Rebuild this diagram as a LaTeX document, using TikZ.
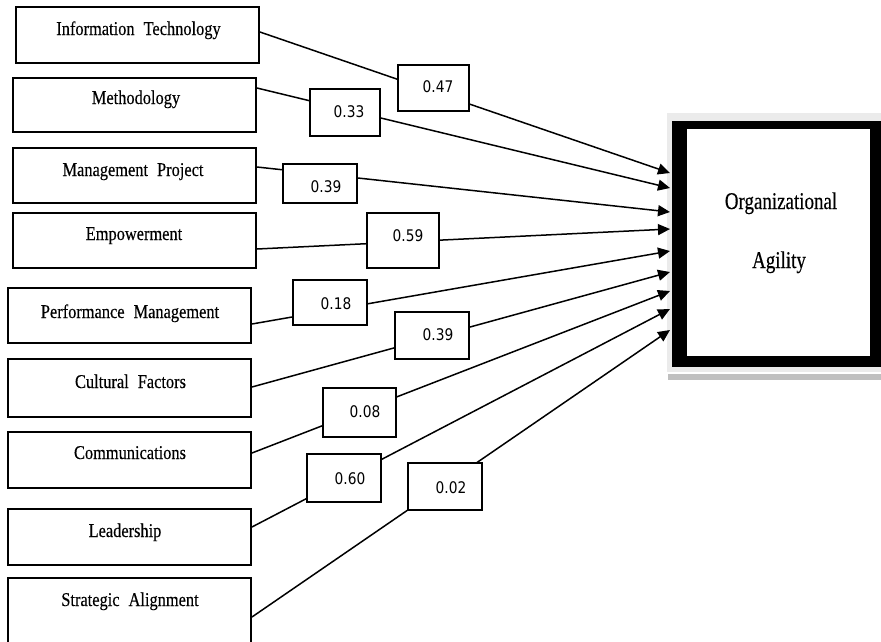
\documentclass[tikz,border=0pt]{standalone}
\usepackage{fontspec}
\setmainfont{Liberation Serif}
\newfontfamily\boxfont[FakeStretch=0.84,WordSpace=2.2,FakeBold=0.3]{Liberation Serif}
\newfontfamily\bigfont[FakeStretch=0.79,FakeBold=0.3]{Liberation Serif}
\newfontfamily\numfont[FakeStretch=0.86]{DejaVu Sans}
\usetikzlibrary{arrows.meta}
\begin{document}
\begin{tikzpicture}[x=1pt,y=-1pt,
  srcbox/.style={draw=black, line width=1.9pt, rectangle, inner sep=0pt, minimum width=243pt},
  srctext/.style={anchor=base, font=\boxfont\fontsize{19.5}{22}\selectfont, inner sep=0pt},
  lblbox/.style={draw=black, line width=1.7pt, fill=white, rectangle, inner sep=0pt},
  lbltext/.style={anchor=base, font=\numfont\fontsize{16}{18}\selectfont, inner sep=0pt},
  bigtext/.style={anchor=base, font=\bigfont\fontsize{24}{28}\selectfont, inner sep=0pt},
  link/.style={line width=1.5pt, draw=black, -{Triangle[length=12pt,width=11pt]}},
]
\useasboundingbox (0,0) rectangle (881,641);
\clip (0,0) rectangle (881,641);
\fill[white] (0,0) rectangle (881,641);

% target box with shadow
\fill[black!8] (667,113) rectangle (890,372);
\fill[black!25] (668,374) rectangle (890,380);
\node[fill=black, inner sep=0pt, minimum width=218pt, minimum height=246pt] (oaouter) at (781,244) {};
\node[fill=white, inner sep=0pt, minimum width=183pt, minimum height=227pt] (oa) at (778.5,242.5) {};
\node[bigtext] (oat1) at (781,209) {Organizational};
\node[bigtext] (oat2) at (779,268) {Agility};

% arrow tips
\coordinate (e1) at (670,173);
\coordinate (e2) at (670,188);
\coordinate (e3) at (670,212);
\coordinate (e4) at (670,229);
\coordinate (e5) at (670,251);
\coordinate (e6) at (670,272);
\coordinate (e7) at (670,291);
\coordinate (e8) at (670,309);
\coordinate (e9) at (670,330);

% source boxes
\node[srcbox, minimum height=56pt] (b1) at (137.5,35) {};
\node[srcbox, minimum height=54pt] (b2) at (134.5,105) {};
\node[srcbox, minimum height=55pt] (b3) at (134.5,175.5) {};
\node[srcbox, minimum height=55pt] (b4) at (134.5,240.5) {};
\node[srcbox, minimum height=55pt] (b5) at (129.5,315.5) {};
\node[srcbox, minimum height=58pt] (b6) at (129.5,388) {};
\node[srcbox, minimum height=56pt] (b7) at (129.5,460) {};
\node[srcbox, minimum height=56pt] (b8) at (129.5,537) {};
\node[srcbox, minimum height=92pt] (b9) at (129.5,624) {};

\node[srctext] (s1) at (138.5,35) {Information Technology};
\node[srctext] (s2) at (136,104) {Methodology};
\node[srctext] (s3) at (133,176) {Management Project};
\node[srctext] (s4) at (134,240) {Empowerment};
\node[srctext] (s5) at (130,318) {Performance Management};
\node[srctext] (s6) at (130.5,388) {Cultural Factors};
\node[srctext] (s7) at (130,459) {Communications};
\node[srctext] (s8) at (125,537) {Leadership};
\node[srctext] (s9) at (130,606) {Strategic Alignment};

% connectors
\draw[link] ([yshift=3pt]b1.east) -- (e1);
\draw[link] ([yshift=17pt]b2.east) -- (e2);
\draw[link] ([yshift=8.5pt]b3.east) -- (e3);
\draw[link] ([yshift=-8.5pt]b4.east) -- (e4);
\draw[link] ([yshift=-8.5pt]b5.east) -- (e5);
\draw[link] ([yshift=1pt]b6.east) -- (e6);
\draw[link] ([yshift=7pt]b7.east) -- (e7);
\draw[link] ([yshift=10pt]b8.east) -- (e8);
\draw[link] ([yshift=7pt]b9.east) -- (e9);

% coefficient labels
\node[lblbox, minimum width=71pt, minimum height=46pt] (l1) at (433.5,88) {};
\node[lblbox, minimum width=70pt, minimum height=47pt] (l2) at (345,112.5) {};
\node[lblbox, minimum width=74pt, minimum height=39pt] (l3) at (320,183.5) {};
\node[lblbox, minimum width=72pt, minimum height=55pt] (l4) at (403,240.5) {};
\node[lblbox, minimum width=74pt, minimum height=45pt] (l5) at (330,302.5) {};
\node[lblbox, minimum width=74pt, minimum height=47pt] (l6) at (432,335.5) {};
\node[lblbox, minimum width=73pt, minimum height=49pt] (l7) at (359.5,412.5) {};
\node[lblbox, minimum width=74pt, minimum height=48pt] (l8) at (344,478) {};
\node[lblbox, minimum width=74pt, minimum height=47pt] (l9) at (445,486.5) {};

\node[lbltext] (n1) at (438,92) {0.47};
\node[lbltext] (n2) at (349,117) {0.33};
\node[lbltext] (n3) at (326,192) {0.39};
\node[lbltext] (n4) at (408,241) {0.59};
\node[lbltext] (n5) at (336,309) {0.18};
\node[lbltext] (n6) at (438,340) {0.39};
\node[lbltext] (n7) at (365,417) {0.08};
\node[lbltext] (n8) at (350,484) {0.60};
\node[lbltext] (n9) at (451,493) {0.02};
\end{tikzpicture}
\end{document}
